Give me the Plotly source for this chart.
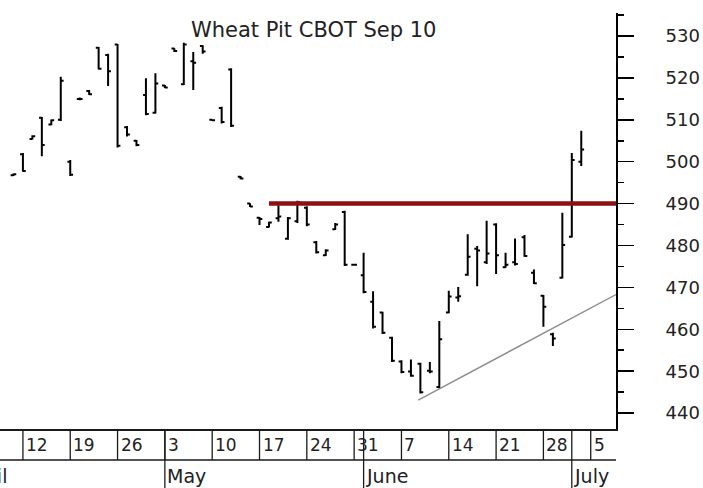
import plotly.graph_objects as go

# ---------------- data ----------------
dates = [
    "2010-04-09", "2010-04-12", "2010-04-13", "2010-04-14", "2010-04-15", "2010-04-16",
    "2010-04-19", "2010-04-20", "2010-04-21", "2010-04-22", "2010-04-23",
    "2010-04-26", "2010-04-27", "2010-04-28", "2010-04-29", "2010-04-30",
    "2010-05-03", "2010-05-04", "2010-05-05", "2010-05-06", "2010-05-07",
    "2010-05-10", "2010-05-11", "2010-05-12", "2010-05-13", "2010-05-14",
    "2010-05-17", "2010-05-18", "2010-05-19", "2010-05-20", "2010-05-21",
    "2010-05-24", "2010-05-25", "2010-05-26", "2010-05-27", "2010-05-28",
    "2010-05-31", "2010-06-01", "2010-06-02", "2010-06-03", "2010-06-04",
    "2010-06-07", "2010-06-08", "2010-06-09", "2010-06-10", "2010-06-11",
    "2010-06-14", "2010-06-15", "2010-06-16", "2010-06-17", "2010-06-18",
    "2010-06-21", "2010-06-22", "2010-06-23", "2010-06-24", "2010-06-25",
    "2010-06-28", "2010-06-29", "2010-06-30", "2010-07-01", "2010-07-02",
]
open_ = [
    496.8, 501.8, 505.4, 510.5, 508.9, 510.0,
    500.0, 515.0, 516.9, 527.2, 525.5,
    528.0, 508.2, 505.0, 515.9, 511.7,
    518.2, 527.0, 518.5, 524.0, 527.6,
    510.0, 512.8, 522.0, 496.4, 490.0,
    486.6, 484.4, 486.5, 481.6, 485.8,
    489.0, 480.8, 477.7, 483.9, 488.0,
    475.4, 472.9, 466.6, 464.0, 458.0,
    452.3, 449.9, 451.8, 450.1, 446.2,
    464.0, 467.6, 473.0, 479.2, 476.0,
    485.0, 474.8, 476.0, 482.0, 473.5,
    468.0, 458.8, 472.3, 482.1, 500.0,
]
high = [
    497.2, 502.1, 506.3, 510.7, 510.1, 520.3,
    500.4, 515.3, 517.1, 527.4, 525.8,
    528.1, 508.5, 505.2, 519.9, 521.1,
    518.3, 527.1, 528.4, 526.2, 527.8,
    510.1, 513.1, 522.3, 496.6, 490.1,
    486.8, 485.7, 489.6, 486.8, 490.7,
    489.4, 481.1, 479.1, 485.4, 488.3,
    475.4, 478.3, 469.1, 464.2, 458.2,
    452.6, 452.8, 452.0, 452.2, 462.0,
    469.2, 470.1, 482.7, 479.9, 485.9,
    485.3, 478.3, 481.7, 482.5, 474.3,
    468.2, 459.2, 487.8, 502.1, 507.4,
]
low = [
    496.6, 497.6, 505.3, 501.3, 508.7, 509.7,
    496.6, 514.7, 515.9, 522.0, 518.1,
    503.4, 506.0, 503.7, 511.1, 511.5,
    517.6, 526.2, 518.3, 517.1, 525.8,
    509.7, 509.1, 508.3, 495.8, 489.2,
    484.9, 484.3, 485.7, 481.4, 485.4,
    484.6, 478.1, 477.5, 483.7, 475.1,
    475.4, 468.6, 460.2, 458.9, 452.2,
    449.5, 448.7, 444.7, 449.5, 445.9,
    463.8, 466.6, 472.8, 470.3, 475.6,
    473.2, 474.7, 475.2, 477.3, 470.8,
    460.6, 456.0, 472.1, 481.9, 499.0,
]
close = [
    497.0, 497.8, 506.1, 504.0, 509.9, 519.3,
    496.9, 515.0, 516.1, 522.2, 521.6,
    503.8, 506.5, 504.0, 511.4, 518.7,
    517.7, 526.4, 528.0, 523.6, 526.3,
    509.9, 509.5, 508.6, 496.0, 489.3,
    486.3, 485.5, 486.9, 486.5, 490.3,
    485.0, 478.4, 478.8, 485.0, 475.4,
    475.4, 468.9, 460.6, 459.2, 452.5,
    449.8, 448.9, 445.0, 449.9, 457.6,
    467.8, 467.9, 477.3, 478.8, 478.1,
    477.7, 475.4, 475.6, 477.5, 471.0,
    465.4, 457.8, 480.1, 500.4, 502.9,
]

# horizontal resistance line and rising trend line
x_start = "2010-04-07 13:53"
x_end = "2010-07-07 16:05"
level_dates = ["2010-05-18", x_end]
level_values = [490, 490]
trend_dates = ["2010-06-08 18:30", x_end]
trend_values = [443.1, 468.3]

# axis labels
y_ticks = [440, 450, 460, 470, 480, 490, 500, 510, 520, 530]
week_starts = ["2010-04-12", "2010-04-19", "2010-04-26", "2010-05-03", "2010-05-10",
               "2010-05-17", "2010-05-24", "2010-05-31", "2010-06-07", "2010-06-14",
               "2010-06-21", "2010-06-28", "2010-07-05"]
week_labels = ["12", "19", "26", "3", "10", "17", "24", "31", "7", "14", "21", "28", "5"]
month_starts = ["2010-05-03", "2010-06-01", "2010-07-01"]
month_labels = ["May", "June", "July"]

# ---------------- figure ----------------
W, H = 703, 488
ML, MR, MT, MB = 0, 87, 13, 59
plot_h = H - MT - MB
FONT = "DejaVu Sans"
TXT = "#222222"

fig = go.Figure()
fig.add_trace(go.Ohlc(
    x=dates, open=open_, high=high, low=low, close=close,
    increasing=dict(line=dict(color="black", width=2)),
    decreasing=dict(line=dict(color="black", width=2)),
    tickwidth=0.3, showlegend=False, hoverinfo="skip",
))
fig.add_trace(go.Scatter(
    x=level_dates, y=level_values, mode="lines",
    line=dict(color="#8b1010", width=4.5), showlegend=False, hoverinfo="skip",
))
fig.add_trace(go.Scatter(
    x=trend_dates, y=trend_values, mode="lines",
    line=dict(color="#8c8c8c", width=1.4), showlegend=False, hoverinfo="skip",
))

row1 = -31 / plot_h   # bottom of week row
row2 = -MB / plot_h   # bottom of month row
shapes = []
for d in week_starts:
    shapes.append(dict(type="line", xref="x", yref="paper", x0=d, x1=d, y0=0, y1=row1,
                       line=dict(color="#1a1a1a", width=1.3)))
for d in month_starts:
    shapes.append(dict(type="line", xref="x", yref="paper", x0=d, x1=d, y0=0, y1=row2,
                       line=dict(color="#1a1a1a", width=1.3)))
shapes.append(dict(type="line", xref="paper", yref="paper", x0=0, x1=1, y0=row1, y1=row1,
                   line=dict(color="#1a1a1a", width=1.3)))

annotations = []
for d, t in zip(week_starts, week_labels):
    annotations.append(dict(x=d, xref="x", y=-15.5 / plot_h, yref="paper", text=t,
                            showarrow=False, xanchor="left", yanchor="middle", xshift=1,
                            font=dict(family=FONT, size=17, color=TXT)))
for d, t in zip(month_starts, month_labels):
    annotations.append(dict(x=d, xref="x", y=-47 / plot_h, yref="paper", text=t,
                            showarrow=False, xanchor="left", yanchor="middle", xshift=0,
                            font=dict(family=FONT, size=19, color=TXT)))
annotations.append(dict(x=9 / (W - ML - MR), xref="paper", y=-47 / plot_h, yref="paper",
                        text="April", showarrow=False, xanchor="right", yanchor="middle",
                        font=dict(family=FONT, size=19, color=TXT)))
annotations.append(dict(x=313 / (W - ML - MR), xref="paper", y=(plot_h - 17) / plot_h,
                        yref="paper", text="Wheat Pit CBOT Sep 10", showarrow=False,
                        xanchor="center", yanchor="middle",
                        font=dict(family=FONT, size=21, color=TXT)))

fig.update_layout(
    width=W, height=H,
    margin=dict(l=ML, r=MR, t=MT, b=MB, pad=0),
    paper_bgcolor="white", plot_bgcolor="white",
    shapes=shapes, annotations=annotations,
    xaxis=dict(
        type="date", range=[x_start, x_end],
        rangebreaks=[dict(bounds=["sat", "mon"])],
        rangeslider=dict(visible=False),
        showticklabels=False, ticks="", showgrid=False, zeroline=False,
        showline=True, linecolor="#1a1a1a", linewidth=1.5,
    ),
    yaxis=dict(
        side="right", range=[436.2, 535.5],
        tickvals=y_ticks, ticks="outside", ticklen=16, tickwidth=1.5, tickcolor="black",
        minor=dict(tickvals=[v + 5 for v in y_ticks] + [435], ticks="outside",
                   ticklen=6, tickwidth=1.5, tickcolor="black"),
        showline=True, linecolor="black", linewidth=2,
        showgrid=False, zeroline=False,
        tickfont=dict(family=FONT, size=18, color=TXT),
        ticklabelstandoff=28, ticklabeloverflow="allow",
    ),
)

fig.write_html(
    "out.html",
    config={"displayModeBar": False, "staticPlot": True},
    post_script="document.body.style.margin='0';document.body.style.padding='0';"
                "document.body.style.overflow='hidden';",
)
